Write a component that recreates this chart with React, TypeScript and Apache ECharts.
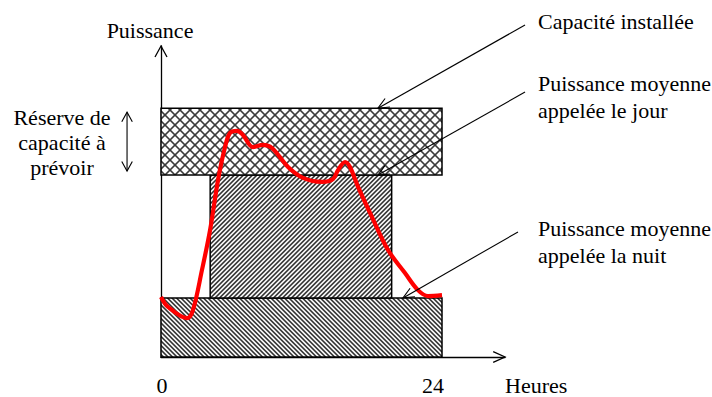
import React, { useEffect, useRef } from "react";
import * as echarts from "echarts";

// Load curve (hours, power units)
const hours = [0, 0.6, 2.22, 2.73, 3.5, 4.19, 4.87, 5.47, 5.89, 6.49, 7.0, 7.86, 8.71, 9.48, 10.85, 12.13, 13.75, 14.69, 15.12, 15.72, 16.14, 16.83, 18.02, 19.39, 20.84, 21.95, 22.8, 24.0];
const demand = [19.3, 16.1, 12.5, 15.1, 28.0, 40.8, 56.9, 67.5, 72.0, 72.7, 71.4, 67.5, 68.2, 67.2, 61.1, 57.6, 56.3, 57.2, 60.1, 62.7, 61.1, 54.7, 45.0, 34.4, 27.0, 21.5, 19.6, 19.9];

// Blocks: night base, day average, installed capacity
const blockNames = ["Puissance moyenne appelée la nuit", "Puissance moyenne appelée le jour", "Capacité installée"];
const blockStart = [0, 4.2, 0];
const blockEnd = [24, 19.7, 24];
const blockLow = [0, 19, 58.5];
const blockHigh = [19, 58.5, 80];

const xTicks = [0, 24];
const xMax = 29.38;
const yMax = 100;

// Annotation arrows: tip (data) and tail (data)
const arrowTipX = [18.53, 18.53, 20.67];
const arrowTipY = [80, 58.5, 19];
const arrowTailX = [31.09, 31.09, 30.49];
const arrowTailY = [106.75, 85.2, 40.2];
const reserveX = -2.9;

const FONT = '"Liberation Serif", "Times New Roman", serif';

function makeHatch(tile: number, period: number, dirs: string[], color: string, lw: number) {
  const s = 4;
  const T = tile * s;
  const c = document.createElement("canvas");
  c.width = T;
  c.height = T;
  const ctx = c.getContext("2d")!;
  ctx.fillStyle = "#ffffff";
  ctx.fillRect(0, 0, T, T);
  ctx.strokeStyle = color;
  ctx.lineWidth = lw * s;
  const n = Math.round(tile / period);
  for (const d of dirs) {
    for (let i = -2 * n; i <= 3 * n; i++) {
      const o = i * period * s;
      ctx.beginPath();
      if (d === "\\") {
        ctx.moveTo(o - T, -T);
        ctx.lineTo(o + 2 * T, 2 * T);
      } else {
        ctx.moveTo(o + T, -T);
        ctx.lineTo(o - 2 * T, 2 * T);
      }
      ctx.stroke();
    }
  }
  return { image: c, repeat: "repeat", imageWidth: tile, imageHeight: tile } as any;
}

function head(tip: number[], from: number[], len: number, ang: number) {
  const dx = from[0] - tip[0];
  const dy = from[1] - tip[1];
  const L = Math.hypot(dx, dy);
  const ux = dx / L;
  const uy = dy / L;
  const rot = (a: number) => [
    tip[0] + len * (ux * Math.cos(a) - uy * Math.sin(a)),
    tip[1] + len * (ux * Math.sin(a) + uy * Math.cos(a)),
  ];
  return [rot(ang), tip, rot(-ang)];
}

export default function App() {
  const ref = useRef<HTMLDivElement>(null);
  useEffect(() => {
    document.body.style.margin = "0";
    const chart = echarts.init(ref.current!, null, { renderer: "svg" });
    const patterns = [
      makeHatch(9, 4.5, ["\\"], "#333333", 1.6),
      makeHatch(9, 4.5, ["/"], "#333333", 1.6),
      makeHatch(10, 10, ["\\", "/"], "#3c3c3c", 1.6),
    ];
    const blocks = blockNames.map((name, i) => [blockStart[i], blockEnd[i], blockLow[i], blockHigh[i], i]);
    chart.setOption({
      animation: false,
      grid: { left: 161, right: 207, top: 46, bottom: 40, outerBoundsMode: "none", containLabel: false },
      xAxis: {
        type: "value",
        min: 0,
        max: xMax,
        axisLine: { show: true, lineStyle: { color: "#000", width: 1.3 } },
        axisTick: { show: false },
        splitLine: { show: false },
        axisLabel: {
          customValues: xTicks,
          margin: 17,
          fontFamily: FONT,
          fontSize: 22,
          lineHeight: 22,
          color: "#000",
          formatter: (v: number) => (v === 24 ? "{r|24}" : "{l|0}"),
          rich: {
            r: { fontFamily: FONT, fontSize: 22, lineHeight: 22, color: "#000", padding: [0, 18, 0, 0] },
            l: { fontFamily: FONT, fontSize: 22, lineHeight: 22, color: "#000", padding: [0, 0, 0, 2] },
          },
        },
      },
      yAxis: {
        type: "value",
        min: 0,
        max: yMax,
        name: "Puissance",
        nameLocation: "end",
        nameGap: 5,
        nameTextStyle: { fontFamily: FONT, fontSize: 22, color: "#000", padding: [0, 22, 0, 0] },
        axisLine: { show: true, lineStyle: { color: "#000", width: 1.3 } },
        axisTick: { show: false },
        axisLabel: { show: false },
        splitLine: { show: false },
      },
      series: [
        {
          type: "custom",
          name: "blocs",
          data: blocks,
          encode: { x: [0, 1], y: [2, 3] },
          renderItem: (params: any, api: any) => {
            const a = api.coord([api.value(0), api.value(3)]);
            const b = api.coord([api.value(1), api.value(2)]);
            return {
              type: "rect",
              shape: { x: a[0], y: a[1], width: b[0] - a[0], height: b[1] - a[1] },
              style: { fill: patterns[api.value(4)], stroke: "#000", lineWidth: 1.5 },
            };
          },
          z: 1,
        },
        {
          type: "line",
          name: "Puissance appelée",
          data: hours.map((h, i) => [h, demand[i]]),
          smooth: 0.35,
          showSymbol: false,
          lineStyle: { color: "#ff0000", width: 4.2 },
          z: 3,
        },
      ],
    });

    const px = (x: number, y: number) => chart.convertToPixel({ gridIndex: 0 }, [x, y]) as number[];
    const graphics: any[] = [];
    const lineStyle = { stroke: "#000", lineWidth: 1.1, fill: "none" };
    // axis arrowheads
    const yTop = px(0, yMax);
    const xEnd = px(xMax, 0);
    graphics.push({ type: "polyline", shape: { points: head(yTop, [yTop[0], yTop[1] + 20], 12.5, 0.5) }, style: { stroke: "#000", lineWidth: 1.3, fill: "none" }, z: 10 });
    graphics.push({ type: "polyline", shape: { points: head(xEnd, [xEnd[0] - 20, xEnd[1]], 13, 0.43) }, style: { stroke: "#000", lineWidth: 1.3, fill: "none" }, z: 10 });
    // annotation arrows
    arrowTipX.forEach((tx, i) => {
      const tip = px(tx, arrowTipY[i]);
      const tail = px(arrowTailX[i], arrowTailY[i]);
      graphics.push({ type: "line", shape: { x1: tail[0], y1: tail[1], x2: tip[0], y2: tip[1] }, style: lineStyle, z: 10 });
      graphics.push({ type: "polyline", shape: { points: head(tip, tail, 12, 0.42) }, style: lineStyle, z: 10 });
    });
    // reserve double arrow
    const rTop = px(reserveX, blockHigh[2]);
    const rBot = px(reserveX, blockLow[2]);
    const t1 = [rTop[0], rTop[1] + 4];
    const t2 = [rBot[0], rBot[1] - 4];
    graphics.push({ type: "line", shape: { x1: t1[0], y1: t1[1], x2: t2[0], y2: t2[1] }, style: lineStyle, z: 10 });
    graphics.push({ type: "polyline", shape: { points: head(t1, t2, 11, 0.5) }, style: lineStyle, z: 10 });
    graphics.push({ type: "polyline", shape: { points: head(t2, t1, 11, 0.5) }, style: lineStyle, z: 10 });

    const txt = (text: string, x: number, y: number, align: string, lh: number) => ({
      type: "text",
      x,
      y,
      z: 10,
      style: {
        text,
        fill: "#000",
        font: `22px ${FONT}`,
        fontSize: 22,
        fontFamily: FONT,
        align,
        textAlign: align,
        verticalAlign: "top",
        textVerticalAlign: "top",
        lineHeight: lh,
      },
    });
    // x axis title, just below the arrow tip
    graphics.push(txt("Heures", xEnd[0], xEnd[1] + 17, "left", 22));
    graphics.push(txt("Réserve de\ncapacité à\nprévoir", 62, 105, "center", 25));
    graphics.push(txt(blockNames[2], 538, 8, "left", 27));
    graphics.push(txt("Puissance moyenne\nappelée le jour", 538, 70, "left", 27));
    graphics.push(txt("Puissance moyenne\nappelée la nuit", 538, 215, "left", 27));

    chart.setOption({ graphic: graphics });
    return () => chart.dispose();
  }, []);
  return <div ref={ref} style={{ width: 712, height: 397 }} />;
}
